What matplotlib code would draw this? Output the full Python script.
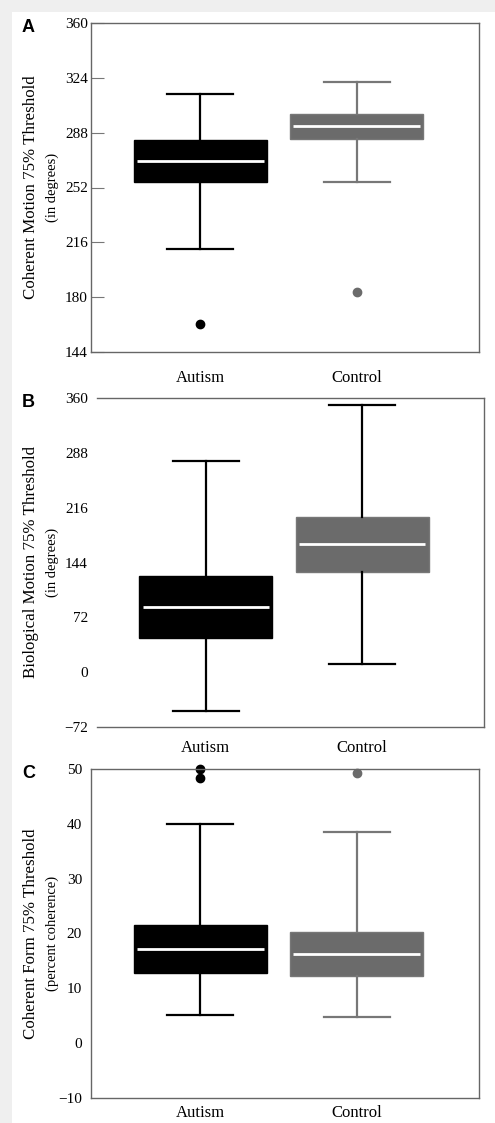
import numpy as np
import matplotlib.pyplot as plt
from matplotlib.patches import Rectangle

W, H = 495, 1123

groups = ['Autism', 'Control']

# Panel A - coherent motion (degrees)
a_q1 = [255.4, 283.7]
a_med = [269.4, 292.2]
a_q3 = [283.5, 300.4]
a_lo = [211.8, 255.8]
a_hi = [313.3, 321.4]
a_fliers = [[162.6], [183.5]]
a_ticks = [144, 180, 216, 252, 288, 324, 360]

# Panel B - biological motion (degrees)
b_q1 = [44.5, 131.7]
b_med = [85.7, 168.1]
b_q3 = [126.9, 203.1]
b_lo = [-51.0, 11.2]
b_hi = [277.6, 350.8]
b_fliers = [[], []]
b_ticks = [-72, 0, 72, 144, 216, 288, 360]

# Panel C - coherent form (percent coherence)
c_q1 = [12.8, 12.2]
c_med = [17.2, 16.3]
c_q3 = [21.5, 20.2]
c_lo = [5.1, 4.8]
c_hi = [40.0, 38.5]
c_fliers = [[50.0, 48.4], [49.2]]
c_ticks = [-10, 0, 10, 20, 30, 40, 50]

SERIF = 'Liberation Serif'
box_colors = ['black', '#6b6b6b']
edge_colors = ['black', '#777777']


def make_stats(q1, med, q3, lo, hi, fliers):
    stats = []
    for i in range(len(q1)):
        stats.append(dict(q1=q1[i], med=med[i], q3=q3[i], whislo=lo[i],
                          whishi=hi[i], fliers=fliers[i], label=groups[i]))
    return stats


def draw_panel(ax, stats, ticks, whisker_colors, letter, label1, label2,
               spines_left=True, ticks_in=True, xpad=10, ypad=6):
    bp = ax.bxp(stats, positions=[1, 2], widths=0.85, patch_artist=True,
                showfliers=True)
    for i in range(2):
        bp['boxes'][i].set_facecolor(box_colors[i])
        bp['boxes'][i].set_edgecolor(edge_colors[i])
        bp['boxes'][i].set_linewidth(1.0)
        bp['medians'][i].set_color('white')
        bp['medians'][i].set_linewidth(2.0)
        bp['medians'][i].set_xdata([i + 1 - 0.405, i + 1 + 0.405])
        for k in (2 * i, 2 * i + 1):
            bp['whiskers'][k].set_color(whisker_colors[i])
            bp['whiskers'][k].set_linewidth(1.6)
            bp['caps'][k].set_color(whisker_colors[i])
            bp['caps'][k].set_linewidth(1.6)
            bp['caps'][k].set_xdata([i + 1 - 0.21, i + 1 + 0.21])
        fl = bp['fliers'][i]
        fl.set_marker('o')
        fl.set_markerfacecolor(box_colors[i])
        fl.set_markeredgecolor(box_colors[i])
        fl.set_markersize(6)
        fl.set_clip_on(False)

    ax.set_xlim(0.303, 2.78)
    ax.set_ylim(ticks[0], ticks[-1])
    ax.set_yticks(ticks)
    ax.set_yticklabels([str(t).replace('-', '\u2212') for t in ticks],
                       fontfamily=SERIF, fontsize=11)
    ax.set_xticks([1, 2])
    ax.set_xticklabels(groups, fontfamily=SERIF, fontsize=12)
    ax.tick_params(axis='x', length=0, pad=xpad)
    if ticks_in:
        ax.tick_params(axis='y', direction='in', length=9, width=0.8,
                       color='#777777', pad=ypad)
    else:
        ax.tick_params(axis='y', length=0, pad=ypad)
    for s in ax.spines.values():
        s.set_color('#666666')
        s.set_linewidth(1.0)
    ax.spines['left'].set_visible(spines_left)

    pos = ax.get_position()
    yc = pos.y0 + pos.height / 2
    fig.text(31 / W, yc, label1, rotation=90, ha='center', va='center',
             fontfamily=SERIF, fontsize=12.2)
    fig.text(52 / W, yc, label2, rotation=90, ha='center', va='center',
             fontfamily=SERIF, fontsize=10.5)
    fig.text(22 / W, pos.y1 + 4 / H, letter, ha='left', va='top',
             fontfamily='Liberation Sans', fontweight='bold', fontsize=13)


fig = plt.figure(figsize=(W / 100, H / 100), dpi=100, facecolor='#efefef')
fig.patches.append(Rectangle((12 / W, 0), 1, 1 - 12 / H, transform=fig.transFigure,
                             facecolor='white', edgecolor='none', zorder=-1))

axA = fig.add_axes([91 / W, 1 - 352 / H, 388 / W, 329 / H])
axB = fig.add_axes([97 / W, 1 - 727 / H, 387 / W, 329 / H])
axC = fig.add_axes([91 / W, 1 - 1098 / H, 388 / W, 329 / H])

draw_panel(axA, make_stats(a_q1, a_med, a_q3, a_lo, a_hi, a_fliers), a_ticks,
           ['black', '#777777'], 'A', 'Coherent Motion 75% Threshold',
           '(in degrees)', xpad=13, ypad=2.2)
draw_panel(axB, make_stats(b_q1, b_med, b_q3, b_lo, b_hi, b_fliers), b_ticks,
           ['black', 'black'], 'B', 'Biological Motion 75% Threshold',
           '(in degrees)', spines_left=False, ticks_in=False, xpad=9, ypad=6.5)
draw_panel(axC, make_stats(c_q1, c_med, c_q3, c_lo, c_hi, c_fliers), c_ticks,
           ['black', '#777777'], 'C', 'Coherent Form 75% Threshold',
           '(percent coherence)', ticks_in=False, xpad=5, ypad=6.5)

fig.savefig('out.png', dpi=100, facecolor=fig.get_facecolor())
